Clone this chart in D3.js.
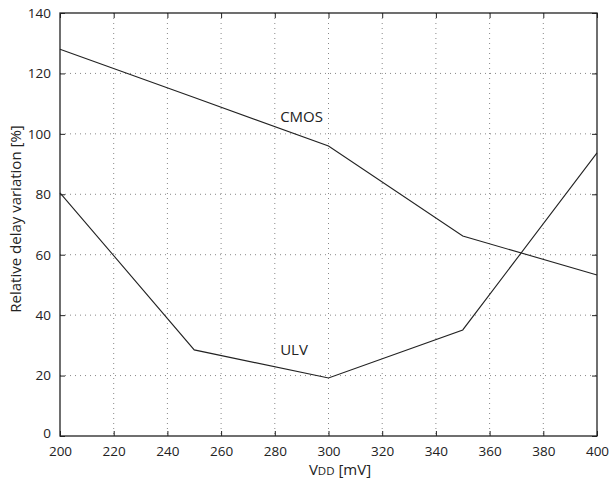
<!DOCTYPE html>
<html>
<head>
<meta charset="utf-8">
<script src="https://cdn.jsdelivr.net/npm/d3@7"></script>
<style>
  body { margin: 0; background: #fff; }
  text { font-family: "Open Sans", sans-serif; font-size: 15px; fill: #222; }
</style>
</head>
<body>
<script>
  var vdd = [200, 250, 300, 350, 400];
  var cmos = [128, 112, 96, 66.2, 53.3];
  var ulv = [80.5, 28.5, 19.2, 35.1, 93.7];
  var xTicks = d3.range(200, 401, 20);
  var yTicks = d3.range(0, 141, 20);

  var width = 611, height = 492;
  var m = {left: 60, top: 13, right: 14, bottom: 56};
  var iw = width - m.left - m.right, ih = height - m.top - m.bottom;

  var svg = d3.select('body').append('svg').attr('width', width).attr('height', height);
  var g = svg.append('g').attr('transform', 'translate(' + m.left + ',' + m.top + ')');

  var x = d3.scaleLinear().domain([200, 400]).range([0, iw]);
  var y = d3.scaleLinear().domain([0, 140]).range([ih, 0]);

  // grid
  g.selectAll('.gx').data(xTicks.slice(1, -1)).enter().append('line')
    .attr('x1', d => x(d)).attr('x2', d => x(d)).attr('y1', 0).attr('y2', ih)
    .attr('stroke', '#888').attr('stroke-dasharray', '1,4');
  g.selectAll('.gy').data(yTicks.slice(1, -1)).enter().append('line')
    .attr('y1', d => y(d)).attr('y2', d => y(d)).attr('x1', 0).attr('x2', iw)
    .attr('stroke', '#888').attr('stroke-dasharray', '1,4');

  // axes, ticks pointing inward on all four sides
  var ax = function (gen) {
    return function (sel) {
      sel.call(gen);
      sel.select('.domain').remove();
      sel.selectAll('line').attr('stroke', '#222');
      sel.selectAll('text').style('font-family', '"Open Sans", sans-serif').style('font-size', '13.5px').attr('fill', '#222');
    };
  };
  g.append('g').attr('transform', 'translate(0,' + ih + ')')
    .call(ax(d3.axisBottom(x).tickValues(xTicks).tickSize(-5).tickPadding(10).tickFormat(d3.format('d'))));
  g.append('g')
    .call(ax(d3.axisLeft(y).tickValues(yTicks).tickSize(-5).tickPadding(9).tickFormat(d3.format('d'))));
  g.append('g')
    .call(ax(d3.axisTop(x).tickValues(xTicks).tickSize(-5).tickFormat('')));
  g.append('g').attr('transform', 'translate(' + iw + ',0)')
    .call(ax(d3.axisRight(y).tickValues(yTicks).tickSize(-5).tickFormat('')));

  // lift the "0" label a little so it clears the "200" below it
  g.selectAll('.tick text').filter(d => d === 0).attr('dy', '0.1em');

  g.append('rect').attr('width', iw).attr('height', ih)
    .attr('fill', 'none').attr('stroke', '#222').attr('stroke-width', 1.3);

  var line = d3.line().x(d => x(d[0])).y(d => y(d[1]));
  [cmos, ulv].forEach(function (s) {
    g.append('path').datum(d3.zip(vdd, s)).attr('d', line)
      .attr('fill', 'none').attr('stroke', '#222').attr('stroke-width', 1.1);
  });

  g.append('text').attr('x', x(282)).attr('y', y(105.6)).attr('dy', '0.35em').text('CMOS');
  g.append('text').attr('x', x(282)).attr('y', y(28.5)).attr('dy', '0.35em').text('ULV');

  var xl = svg.append('text').attr('x', 340).attr('y', 475).attr('text-anchor', 'middle');
  xl.append('tspan').text('V');
  xl.append('tspan').style('font-size', '11.5px').text('DD');
  xl.append('tspan').text(' [mV]');

  svg.append('text').attr('transform', 'translate(21,219) rotate(-90)')
    .attr('text-anchor', 'middle').text('Relative delay variation [%]');
</script>
</body>
</html>
